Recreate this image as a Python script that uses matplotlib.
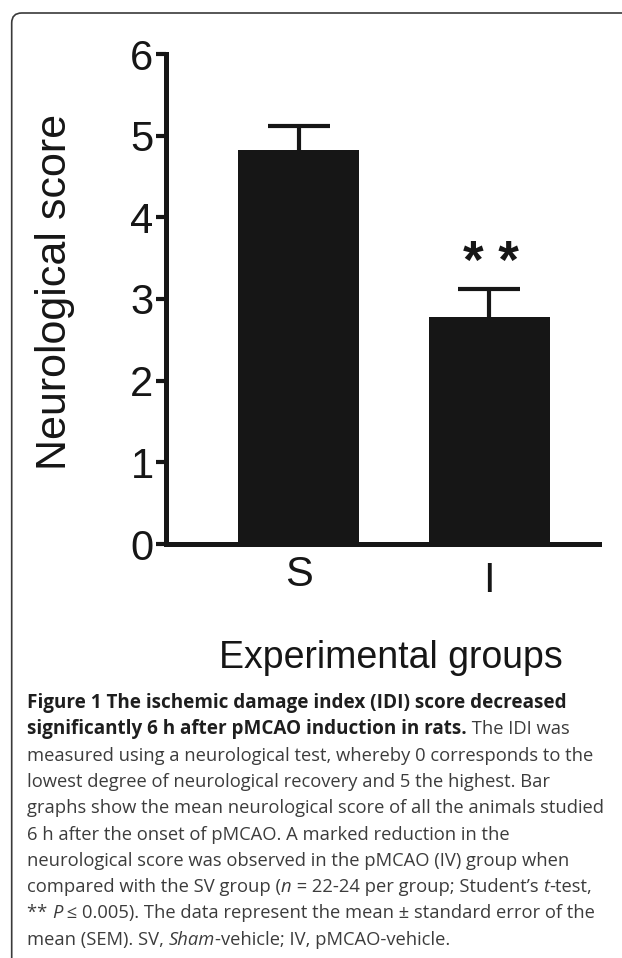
'''
neurological score bar chart (figure 1 recreation)
'''

import numpy as np
import matplotlib
matplotlib.use('Agg')
import matplotlib.pyplot as plt
import matplotlib.transforms as mtransforms
from matplotlib.patches import FancyBboxPatch

# data
groups = ['S', 'I']
means = [4.82, 2.78]
sems = [0.30, 0.34]
yticks = [0, 1, 2, 3, 4, 5, 6]
sig_label = '* *'

# caption, one list of (text, style) runs per printed line
caption = [
    [('Figure 1 The ischemic damage index (IDI) score decreased', 'bold')],
    [('significantly 6 h after pMCAO induction in rats.', 'bold'), (' The IDI was', 'normal')],
    [('measured using a neurological test, whereby 0 corresponds to the', 'normal')],
    [('lowest degree of neurological recovery and 5 the highest. Bar', 'normal')],
    [('graphs show the mean neurological score of all the animals studied', 'normal')],
    [('6 h after the onset of pMCAO. A marked reduction in the', 'normal')],
    [('neurological score was observed in the pMCAO (IV) group when', 'normal')],
    [('compared with the SV group (', 'normal'), ('n', 'italic'),
     (' = 22-24 per group; Student\u2019s ', 'normal'), ('t', 'italic'), ('-test,', 'normal')],
    [('** ', 'normal'), ('P', 'italic'),
     (' \u2264 0.005). The data represent the mean \u00b1 standard error of the', 'normal')],
    [('mean (SEM). SV, ', 'normal'), ('Sham', 'italic'), ('-vehicle; IV, pMCAO-vehicle.', 'normal')],
]

W, H = 622, 958
ink = '#161616'
sans = ['Liberation Sans', 'DejaVu Sans']
capfont = ['Open Sans', 'DejaVu Sans']

fig = plt.figure(figsize=(W/100, H/100), dpi=100)

# axes box in pixels: y axis at x=166, x axis at y=544, top (6) at y=54
ax = fig.add_axes([166/W, 1-544/H, (599-166)/W, (544-54)/H])

x = np.arange(len(groups))
bw = 0.635
ax.bar(x, means, width=bw, color=ink, zorder=2)
# upper half of the SEM bars only
tops = np.array(means) + np.array(sems)
ax.vlines(x, means, tops, color=ink, linewidth=3, zorder=1)
ax.hlines(tops, x - 0.163, x + 0.163, color=ink, linewidth=3, zorder=1)

# significance stars above the second bar
ax.annotate(sig_label, xy=(x[1], tops[1]), xytext=(1, 0),
            textcoords='offset points', ha='center', va='bottom',
            fontsize=38, fontweight='bold', family=sans, color=ink)

ax.set_xlim(-0.696, 1.577)
ax.set_ylim(0, 6)
ax.set_yticks(yticks)
ax.set_yticklabels([str(v) for v in yticks], family=sans, fontsize=30, color=ink)
ax.set_xticks(x)
ax.set_xticklabels(groups, family=sans, fontsize=30, color=ink)
ax.tick_params(axis='y', length=7, width=3, pad=2, color=ink)
ax.tick_params(axis='x', length=0, pad=8)
# the "I" label sits a little lower than "S"
lbl = ax.get_xticklabels()[1]
lbl.set_transform(lbl.get_transform() + mtransforms.ScaledTranslation(0, -0.06, fig.dpi_scale_trans))

for s in ['top', 'right']:
    ax.spines[s].set_visible(False)
for s in ['left', 'bottom']:
    ax.spines[s].set_linewidth(3.6)
    ax.spines[s].set_color(ink)
    ax.spines[s].set_capstyle('projecting')

fig.text(55/W, 1-292/H, 'Neurological score', rotation=90, ha='center', va='center',
         fontsize=31, family=sans, color=ink)
fig.text(391/W, 1-668/H, 'Experimental groups', ha='center', va='baseline',
         fontsize=27, family=sans, color=ink)

# rounded frame (top-left corner only visible)
frame = FancyBboxPatch((0.117, -1.0), 8.0, 9.45 + 1.0, boxstyle='round,pad=0,rounding_size=0.1',
                       transform=fig.dpi_scale_trans, fill=False, edgecolor='#3a3a3a',
                       linewidth=1.2, clip_on=False)
fig.patches.append(frame)

# caption, laid out run by run
r = fig.canvas.get_renderer()
for i, line in enumerate(caption):
    xpos = 27
    ybase = 708 + i*26.3
    for txt, style in line:
        t = fig.text(xpos/W, 1-ybase/H, txt, ha='left', va='baseline',
                     fontsize=13.6 if style == 'bold' else 13.2,
                     family=capfont,
                     fontweight='bold' if style == 'bold' else 'normal',
                     fontstyle='italic' if style == 'italic' else 'normal',
                     color='#1e1e1e' if style == 'bold' else '#3c3c3c')
        bb = t.get_window_extent(r)
        xpos = bb.x1

fig.savefig('out.png', dpi=100)
